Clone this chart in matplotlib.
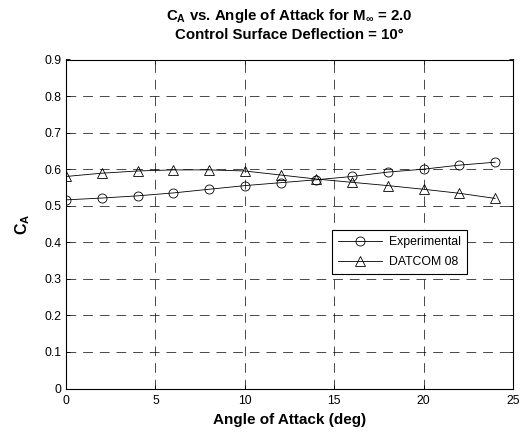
import matplotlib
matplotlib.use("Agg")
import matplotlib.pyplot as plt
import numpy as np

plt.rcParams['font.family'] = ['Liberation Sans', 'DejaVu Sans']
plt.rcParams['mathtext.fontset'] = 'custom'
plt.rcParams['mathtext.rm'] = 'Liberation Sans'
plt.rcParams['mathtext.bf'] = 'Liberation Sans:bold'
plt.rcParams['mathtext.it'] = 'Liberation Sans:italic'
plt.rcParams['lines.scale_dashes'] = False

alpha = [0, 2, 4, 6, 8, 10, 12, 14, 16, 18, 20, 22, 24]
ca_exp = [0.516, 0.521, 0.527, 0.535, 0.545, 0.555, 0.563, 0.571, 0.580, 0.592, 0.600, 0.611, 0.619]
ca_datcom = [0.580, 0.589, 0.595, 0.598, 0.598, 0.595, 0.584, 0.573, 0.564, 0.555, 0.545, 0.534, 0.520]
xticks = [0, 5, 10, 15, 20, 25]
yticks = [0, 0.1, 0.2, 0.3, 0.4, 0.5, 0.6, 0.7, 0.8, 0.9]
ytick_labels = ['0', '0.1', '0.2', '0.3', '0.4', '0.5', '0.6', '0.7', '0.8', '0.9']

fig = plt.figure(figsize=(5.23, 4.32), dpi=100)
ax = fig.add_axes([66/523, 1-388.5/432, (513-66)/523, (388.5-59.5)/432])

ax.plot(alpha, ca_exp, color='black', lw=0.6, marker='o', ms=6.5,
        mfc='none', mec='black', mew=0.6, label='Experimental')
ax.plot(alpha, ca_datcom, color='black', lw=0.6, marker='^', ms=7,
        mfc='none', mec='black', mew=0.6, label='DATCOM 08')

ax.set_xlim(0, 25)
ax.set_ylim(0, 0.9)
ax.set_xticks(xticks)
ax.set_yticks(yticks)
ax.set_yticklabels(ytick_labels)
ax.tick_params(direction='in', length=3, width=0.6, labelsize=8.7,
               top=True, right=True, pad=3)
ax.tick_params(axis='x', pad=5)
for s in ax.spines.values():
    s.set_linewidth(0.8)
ax.grid(True, color='black', linestyle=(0, (7, 5)), linewidth=0.5)

ax.set_xlabel('Angle of Attack (deg)', fontsize=11, fontweight='bold', labelpad=4)
ax.set_ylabel(r'$\mathbf{C_A}$', fontsize=11.5, labelpad=9)
ax.set_title(r'$\mathbf{C_A}$ vs. Angle of Attack for $\mathbf{M_\infty}$ = 2.0' + '\n'
             + 'Control Surface Deflection = 10°',
             fontsize=10.8, fontweight='bold', linespacing=1.25, pad=15)

leg = ax.legend(loc='upper left', bbox_to_anchor=((331.7-66)/447, 1-(230-59.5)/329),
                fontsize=8.8, frameon=True, fancybox=False, edgecolor='black',
                handlelength=3.6, borderpad=0.5, labelspacing=0.65,
                handletextpad=0.6, borderaxespad=0)
leg.get_frame().set_linewidth(0.8)
leg.get_frame().set_alpha(1)

fig.savefig('out.png', dpi=100)
